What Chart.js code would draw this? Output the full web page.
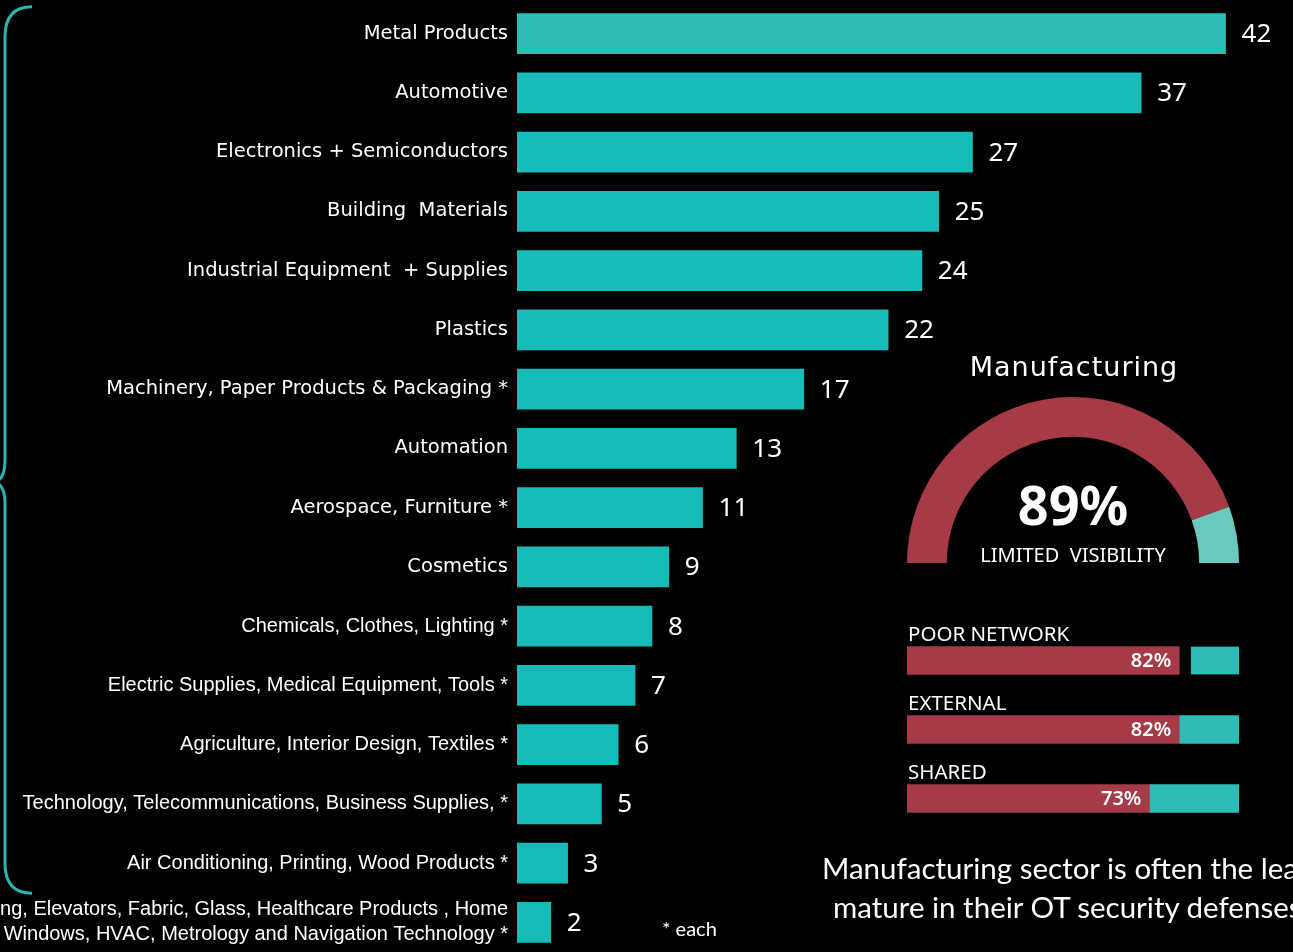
<!DOCTYPE html>
<html>
<head>
<meta charset="utf-8">
<script src="https://cdn.jsdelivr.net/npm/chart.js@4.4.1/dist/chart.umd.min.js"></script>
<style>
  body { margin: 0; background: #000; width: 1293px; height: 952px; overflow: hidden; position: relative; }
  canvas { position: absolute; }
  .texto { position: absolute; white-space: nowrap; color: #fff; }
</style>
</head>
<body>
<canvas id="sectores" width="1293" height="952" style="left:0;top:0"></canvas>
<canvas id="medidor" width="332" height="166" style="left:907px;top:397px"></canvas>
<canvas id="visibilidad" width="332" height="237" style="left:907px;top:596px"></canvas>

<div class="texto" style="left:874px;top:350px;width:400px;text-align:center;font:27px 'DejaVu Sans';letter-spacing:1px;line-height:34px">Manufacturing</div>
<div class="texto" style="left:662px;top:914px;font:20px Lato;line-height:28px">* each</div>
<div class="texto" style="left:822px;top:849px;font:29.5px Lato;line-height:38px">Manufacturing sector is often the least</div>
<div class="texto" style="left:833px;top:888px;font:29.5px Lato;line-height:38px">mature in their OT security defenses.</div>

<script>
// Sectores y número de clientes
const sectores = [
  "Metal Products",
  "Automotive",
  "Electronics + Semiconductors",
  "Building  Materials",
  "Industrial Equipment  + Supplies",
  "Plastics",
  "Machinery, Paper Products & Packaging *",
  "Automation",
  "Aerospace, Furniture *",
  "Cosmetics",
  "Chemicals, Clothes, Lighting *",
  "Electric Supplies, Medical Equipment, Tools *",
  "Agriculture, Interior Design, Textiles *",
  "Technology, Telecommunications, Business Supplies, *",
  "Air Conditioning, Printing, Wood Products *",
  ["Building, Elevators, Fabric, Glass, Healthcare Products , Home",
   "Windows, HVAC, Metrology and Navigation Technology *"]
];
const conteos = [42, 37, 27, 25, 24, 22, 17, 13, 11, 9, 8, 7, 6, 5, 3, 2];

// Medidor de visibilidad
const medidorValores = [89, 11];

// Barras pequeñas
const visibilidadEtiquetas = ["POOR NETWORK", "EXTERNAL", "SHARED"];
const visibilidadLimitada = [82, 82, 73];
const visibilidadResto = [18, 18, 27];

const ROJO = '#A63A47';
const TURQUESA = '#17BCB9';

// Números al final de cada barra
const etiquetasValor = {
  id: 'etiquetasValor',
  afterDatasetsDraw(chart) {
    const ctx = chart.ctx;
    ctx.save();
    ctx.fillStyle = '#fff';
    ctx.font = '26px "Noto Sans"';
    ctx.textBaseline = 'middle';
    chart.getDatasetMeta(0).data.forEach((barra, i) => {
      ctx.fillText(String(conteos[i]), barra.x + 16, barra.y + 1);
    });
    ctx.restore();
  }
};

// Llave a la izquierda de las categorías
const llave = {
  id: 'llave',
  afterDraw(chart) {
    const y = chart.scales.y;
    const arriba = y.getPixelForValue(0) - 27;
    const abajo = y.getPixelForValue(14) + 30;
    const medio = (y.getPixelForValue(7) + y.getPixelForValue(8)) / 2 + 4;
    const ctx = chart.ctx;
    ctx.save();
    ctx.strokeStyle = '#2BB5B0';
    ctx.lineWidth = 3;
    ctx.beginPath();
    ctx.moveTo(32, arriba);
    ctx.quadraticCurveTo(5, arriba, 5, arriba + 30);
    ctx.lineTo(5, medio - 22);
    ctx.quadraticCurveTo(5, medio, -8, medio);
    ctx.quadraticCurveTo(5, medio, 5, medio + 22);
    ctx.lineTo(5, abajo - 30);
    ctx.quadraticCurveTo(5, abajo, 32, abajo);
    ctx.stroke();
    ctx.restore();
  }
};

new Chart(document.getElementById('sectores'), {
  type: 'bar',
  data: {
    labels: sectores,
    datasets: [{
      data: conteos,
      backgroundColor: conteos.map((v, i) => i === 0 ? '#2DBDB6' : TURQUESA),
      borderWidth: 0,
      barThickness: 40
    }]
  },
  options: {
    indexAxis: 'y',
    responsive: false,
    devicePixelRatio: 1,
    animation: false,
    events: [],
    layout: { padding: { top: 4, bottom: 0, left: 0, right: 0 } },
    plugins: { legend: { display: false }, tooltip: { enabled: false } },
    scales: {
      x: { display: false, min: 0, max: 46 },
      y: {
        grid: { display: false, drawTicks: false },
        border: { display: false },
        afterFit: (escala) => {
          escala.width = 517;
          escala.paddingTop = 0;
          escala.paddingBottom = 0;
        },
        ticks: {
          autoSkip: false,
          padding: 9,
          color: '#fff',
          font: (c) => c.index >= 10
            ? { family: 'Liberation Sans', size: 20, lineHeight: 1.25 }
            : { family: 'DejaVu Sans', size: 19.5 }
        }
      }
    }
  },
  plugins: [etiquetasValor, llave]
});

// Texto central del medidor
const textoMedidor = {
  id: 'textoMedidor',
  afterDraw(chart) {
    const arco = chart.getDatasetMeta(0).data[0];
    const ctx = chart.ctx;
    ctx.save();
    ctx.fillStyle = '#fff';
    ctx.textAlign = 'center';
    ctx.textBaseline = 'alphabetic';
    ctx.font = 'bold 54px "Noto Sans"';
    ctx.fillText(medidorValores[0] + '%', arco.x, arco.y - 38);
    ctx.font = '20px "Noto Sans"';
    ctx.fillText('LIMITED  VISIBILITY', arco.x, arco.y - 1);
    ctx.restore();
  }
};

new Chart(document.getElementById('medidor'), {
  type: 'doughnut',
  data: {
    datasets: [{
      data: medidorValores,
      backgroundColor: [ROJO, '#6AC8BE'],
      borderWidth: 0
    }]
  },
  options: {
    responsive: false,
    devicePixelRatio: 1,
    animation: false,
    events: [],
    rotation: -90,
    circumference: 180,
    cutout: '76%',
    plugins: { legend: { display: false }, tooltip: { enabled: false } }
  },
  plugins: [textoMedidor]
});

// Rótulos y porcentajes de las barras pequeñas
const rotulosVisibilidad = {
  id: 'rotulosVisibilidad',
  afterDatasetsDraw(chart) {
    const ctx = chart.ctx;
    const izquierda = chart.chartArea.left;
    ctx.save();
    ctx.fillStyle = '#fff';
    chart.getDatasetMeta(0).data.forEach((barra, i) => {
      ctx.textAlign = 'left';
      ctx.textBaseline = 'alphabetic';
      ctx.font = '20.5px "Noto Sans"';
      ctx.fillText(visibilidadEtiquetas[i], izquierda + 1, barra.y - 20);
      ctx.textAlign = 'right';
      ctx.textBaseline = 'middle';
      ctx.font = '600 20px "Noto Sans"';
      ctx.fillText(visibilidadLimitada[i] + '%', barra.x - 8, barra.y + 1);
    });
    ctx.restore();
  }
};

new Chart(document.getElementById('visibilidad'), {
  type: 'bar',
  data: {
    labels: visibilidadEtiquetas,
    datasets: [{
      data: visibilidadLimitada,
      backgroundColor: ROJO,
      borderWidth: 0,
      barThickness: 28
    }, {
      data: visibilidadResto,
      backgroundColor: '#2DBDB6',
      borderColor: '#000',
      borderSkipped: false,
      borderWidth: (c) => c.dataIndex === 0 ? { left: 12, right: 0, top: 0, bottom: 0 } : 0,
      barThickness: 28
    }]
  },
  options: {
    indexAxis: 'y',
    responsive: false,
    devicePixelRatio: 1,
    animation: false,
    events: [],
    layout: { padding: { top: 30 } },
    plugins: { legend: { display: false }, tooltip: { enabled: false } },
    scales: {
      x: { display: false, stacked: true, min: 0, max: 100 },
      y: { display: false, stacked: true }
    }
  },
  plugins: [rotulosVisibilidad]
});
</script>
</body>
</html>
